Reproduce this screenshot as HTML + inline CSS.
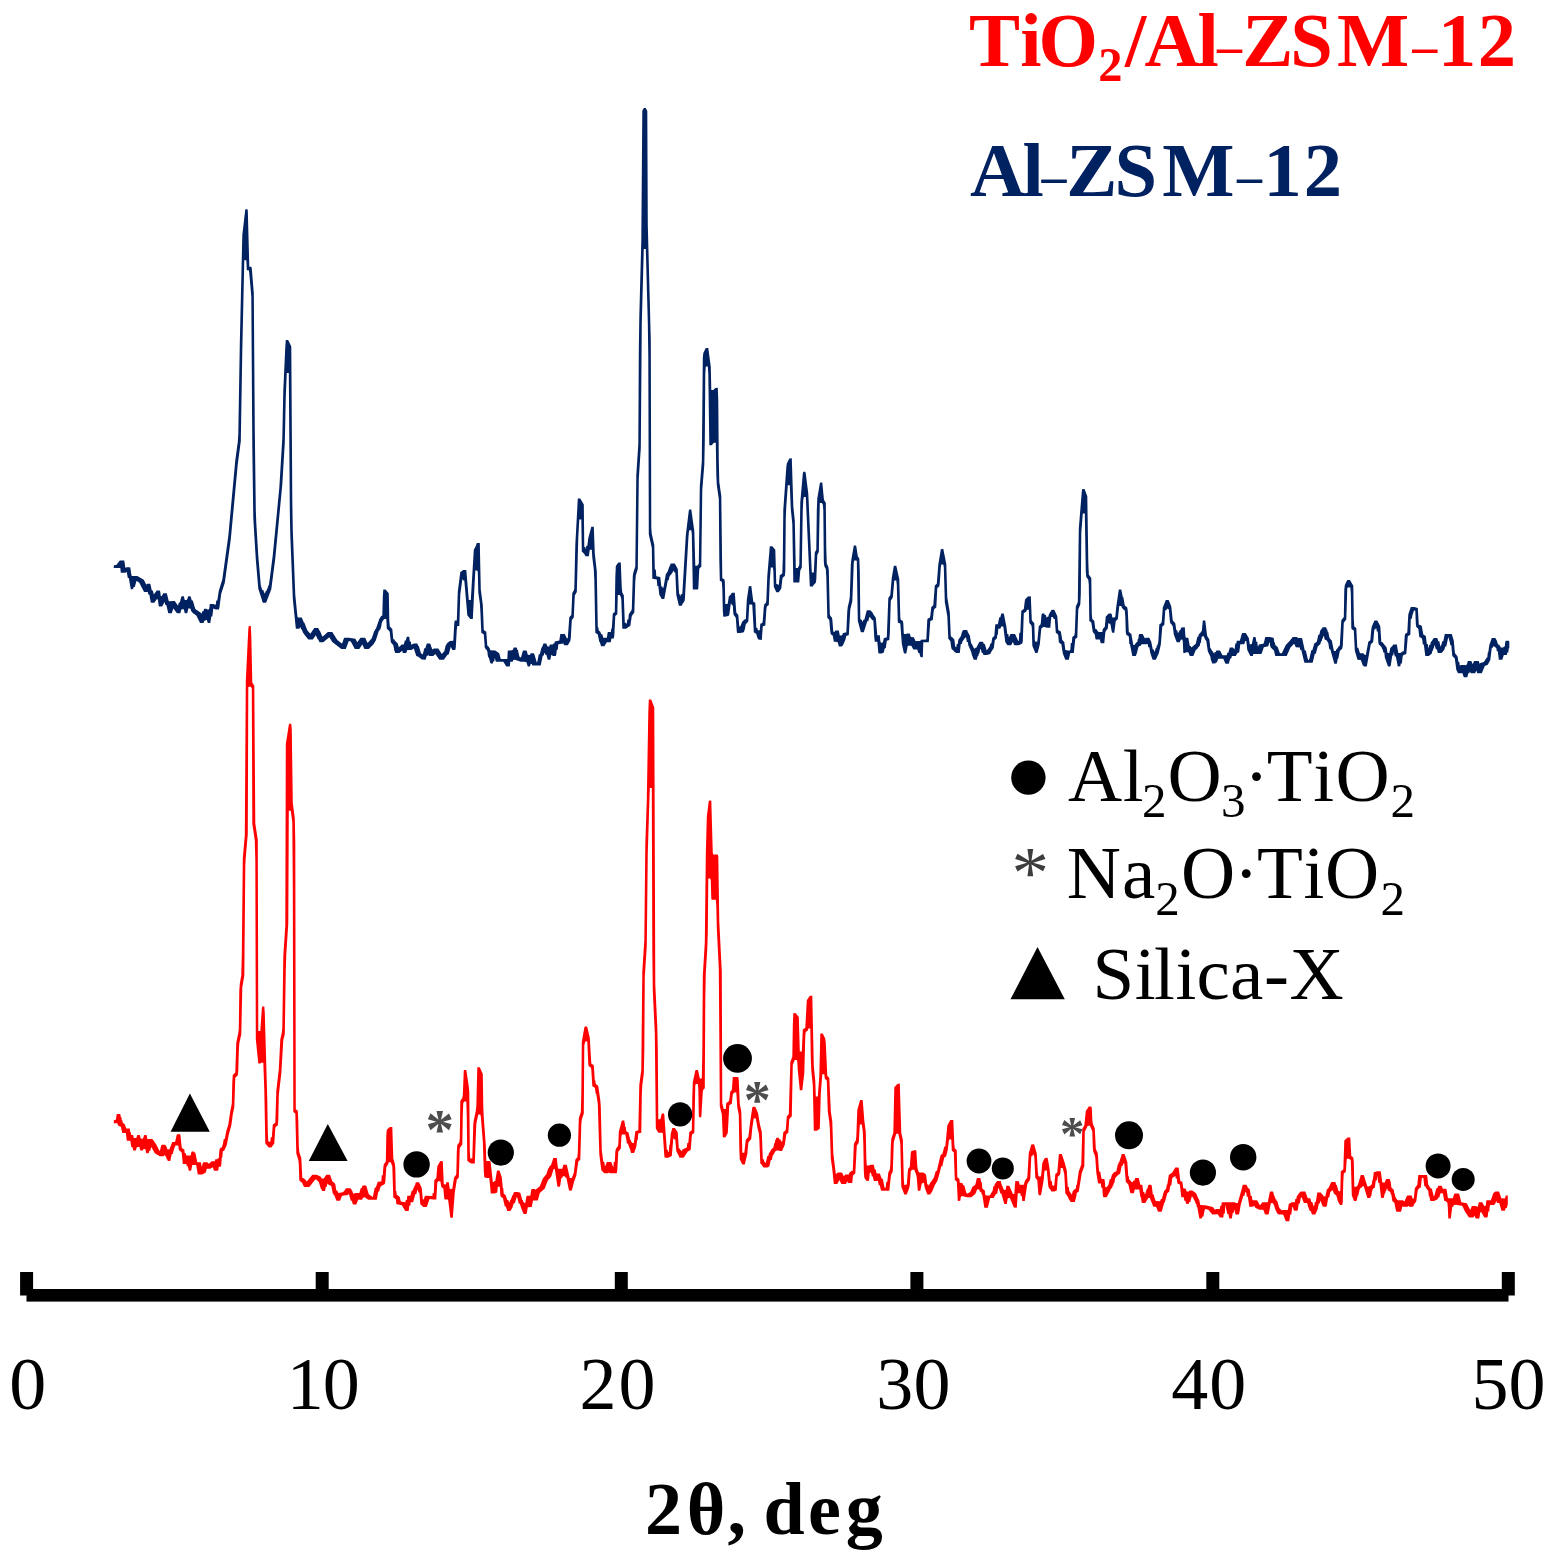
<!DOCTYPE html>
<html lang="en">
<head>
<meta charset="utf-8">
<title>XRD patterns: TiO2/Al-ZSM-12 and Al-ZSM-12</title>
<style>
html,body{margin:0;padding:0;background:#fff;}
body{width:1552px;height:1560px;overflow:hidden;}
svg{display:block;}
text{font-family:"Liberation Serif",serif;}
.curve{fill:none;stroke-linejoin:miter;stroke-miterlimit:3;stroke-linecap:butt;}
</style>
</head>
<body>
<svg width="1552" height="1560" viewBox="0 0 1552 1560">
<defs><filter id="soft" x="-2%" y="-2%" width="104%" height="104%"><feGaussianBlur stdDeviation="0.7"/></filter><filter id="csoft" x="-2%" y="-2%" width="104%" height="104%"><feGaussianBlur stdDeviation="0.45"/></filter><filter id="msoft" x="-2%" y="-2%" width="104%" height="104%"><feGaussianBlur stdDeviation="0.5"/></filter></defs>
<rect width="1552" height="1560" fill="#fff"/>
<g filter="url(#soft)">
<g id="axis" fill="#000">
<rect x="26.5" y="1289" width="1482" height="12.6"/>
<rect x="20.1" y="1272" width="13" height="23.5"/>
<rect x="315.7" y="1272" width="13" height="23.5"/>
<rect x="614.8" y="1272" width="13" height="23.5"/>
<rect x="910.4" y="1272" width="13" height="23.5"/>
<rect x="1206.3" y="1272" width="13" height="23.5"/>
<rect x="1501.8" y="1272" width="13" height="23.5"/>
</g>
<g id="ticklabels">
<text x="9.2" y="1409.4" font-size="74" fill="#000">0</text>
<text x="286.7 322.8" y="1409.4" font-size="74" fill="#000">10</text>
<text x="579.5 618.5" y="1409.4" font-size="74" fill="#000">20</text>
<text x="876.3 913.4" y="1409.4" font-size="74" fill="#000">30</text>
<text x="1171.2 1209.2" y="1409.4" font-size="74" fill="#000">40</text>
<text x="1471.5 1508.6" y="1409.4" font-size="74" fill="#000">50</text>
</g>
<text x="645.0 686.8 727.6 747.6 763.4 807.9 845.8" y="1533.5" font-size="74" font-weight="bold" fill="#000">2θ, deg</text>
</g>
<g filter="url(#csoft)">
<polygon fill="#002060" points="113.8,565.3 116.3,565.1 119.8,560.5 124.3,560.5 125.3,567.7 126.8,567.2 129.8,567.2 130.3,567.7 131.3,574.4 131.8,575.9 137.3,576.1 143.8,579.8 146.3,584.8 146.8,583.9 147.3,583.7 150.3,583.7 151.8,590.4 152.8,590.4 153.8,594.4 156.8,590.4 159.8,590.4 160.3,591.9 160.8,596.3 161.8,596.1 163.3,593.3 166.8,593.3 168.8,601.3 174.8,601.1 177.8,605.5 178.3,604.7 178.8,602.5 179.8,602.5 181.3,596.7 181.8,596.2 183.8,596.2 184.8,600.0 186.8,600.0 188.3,596.2 190.3,596.2 190.8,597.0 191.8,600.4 192.8,600.4 195.3,609.0 200.8,612.7 201.3,613.4 201.8,613.2 202.3,611.3 203.3,611.3 204.3,608.8 206.3,608.8 207.3,609.5 208.8,609.5 209.3,608.5 209.8,604.0 213.3,604.0 215.3,604.8 215.8,604.4 216.3,600.4 217.3,600.4 218.8,590.7 222.3,579.6 228.3,536.1 235.3,460.3 237.8,441.7 238.3,433.7 239.8,343.2 242.3,234.9 245.3,209.2 247.3,209.2 247.8,210.5 249.3,266.7 251.3,266.7 251.8,268.6 253.8,292.9 254.8,429.3 255.8,509.8 256.3,523.0 258.3,555.9 260.8,585.4 262.3,590.1 263.3,590.1 264.3,593.1 264.8,593.5 265.8,591.0 266.3,591.0 267.8,587.6 268.3,585.6 268.8,585.6 269.8,578.6 272.8,554.9 279.3,488.0 282.3,438.2 283.3,390.3 285.3,346.4 285.8,340.1 287.8,340.1 288.3,340.3 291.3,346.4 292.3,499.9 292.8,530.7 295.3,595.1 297.3,615.2 297.8,617.5 301.8,617.5 303.8,622.4 304.3,622.4 307.3,630.3 310.3,633.7 314.3,628.1 318.3,628.1 319.3,630.6 319.8,630.6 322.3,636.5 322.8,636.4 327.8,632.0 332.3,632.0 337.3,639.9 341.8,643.4 342.3,643.0 343.8,638.5 344.3,637.8 348.8,637.8 355.3,638.7 357.3,642.3 360.3,638.0 360.8,637.8 364.8,637.8 365.3,638.0 367.3,642.5 367.8,642.8 371.8,638.3 374.3,630.8 374.8,630.8 375.3,629.1 375.8,629.1 379.3,619.0 381.3,615.8 382.3,615.8 382.8,596.7 383.3,589.5 385.3,589.5 385.8,589.7 388.8,593.3 389.3,620.2 389.8,626.6 392.3,629.1 393.3,639.2 394.3,639.2 394.8,640.5 397.8,643.6 398.8,647.2 401.8,644.6 403.8,644.6 404.8,640.5 405.8,640.5 406.8,636.8 408.8,636.8 409.3,637.1 409.8,641.5 410.8,641.5 411.3,644.8 413.8,643.6 417.3,643.6 418.3,646.1 418.8,646.1 420.8,652.8 421.3,653.6 422.3,654.2 422.8,654.2 424.3,648.3 425.3,648.3 426.8,643.6 429.8,643.6 430.3,643.8 432.3,649.5 433.8,648.4 438.3,648.4 441.8,653.9 444.3,651.3 445.8,645.1 446.3,645.1 446.8,643.6 449.8,640.9 453.3,640.7 454.3,623.1 454.8,620.4 456.8,620.4 457.8,591.4 460.3,572.1 463.3,570.1 466.3,570.1 468.8,600.0 470.8,600.0 473.8,549.8 475.8,546.0 476.8,543.1 479.8,543.1 480.8,589.5 482.8,605.0 483.8,630.1 486.3,631.8 487.3,645.8 487.8,645.8 488.3,646.3 489.8,648.4 490.3,650.2 495.3,650.4 498.8,652.9 499.3,653.5 500.8,659.1 507.3,659.1 507.8,650.4 511.3,650.4 511.8,649.9 512.8,649.9 513.8,647.5 516.3,647.5 516.8,647.7 517.3,649.7 517.8,649.7 519.3,656.1 519.8,657.2 520.8,657.5 521.3,656.6 522.8,650.9 523.3,650.4 526.3,650.4 526.8,651.1 527.8,654.8 529.8,655.0 530.8,653.3 533.8,653.3 534.3,654.0 536.8,662.4 537.3,661.7 538.8,654.2 539.8,654.2 541.3,648.2 542.8,645.5 543.3,643.8 543.8,643.6 546.3,643.6 547.3,646.1 547.8,646.5 549.3,646.5 549.8,644.6 552.8,644.6 553.3,643.6 554.3,643.6 554.8,641.6 559.3,640.5 560.3,633.9 564.8,633.9 566.8,638.2 567.8,638.3 569.3,617.3 571.3,615.1 572.3,592.9 573.8,590.4 574.3,588.2 575.3,544.9 577.8,498.6 580.3,498.6 583.8,504.4 584.3,547.1 585.3,547.1 585.8,549.6 586.3,545.7 587.3,545.7 588.3,538.0 591.3,526.7 593.8,526.7 594.8,553.4 596.8,571.4 597.8,627.3 598.3,627.3 598.8,630.4 600.3,631.8 601.3,634.2 602.3,634.2 603.3,637.8 606.8,637.8 607.8,632.0 610.8,632.0 611.3,628.6 611.8,628.6 612.8,613.4 614.8,611.9 615.3,577.8 615.8,566.0 618.3,562.4 620.8,562.4 621.8,588.2 622.3,592.4 623.8,595.3 624.8,622.7 625.8,622.7 626.3,623.7 626.8,623.4 627.3,619.6 628.3,619.6 628.8,614.6 629.3,613.4 631.3,610.5 631.8,609.0 632.8,575.7 633.3,572.8 635.3,566.5 636.3,474.9 638.3,443.9 638.8,350.9 639.3,316.7 641.3,240.2 642.3,110.7 643.8,108.0 645.8,108.0 647.3,111.0 647.8,224.7 650.8,340.4 651.3,527.9 651.8,533.9 654.3,544.9 654.8,569.6 655.8,569.6 656.3,576.2 660.3,577.0 661.3,586.6 662.3,586.6 662.8,588.0 663.3,588.0 663.8,585.8 665.8,574.2 667.8,571.3 668.8,567.9 670.8,563.6 674.8,563.6 677.8,569.1 678.8,590.0 679.3,594.5 680.3,594.5 680.8,596.5 681.3,593.9 682.3,593.9 685.8,535.4 688.8,510.4 689.3,509.4 691.3,509.4 694.3,530.9 695.3,565.7 697.3,565.7 698.8,563.8 699.8,486.1 701.8,461.5 702.8,357.8 703.3,353.1 705.8,348.0 708.3,348.0 710.8,367.1 711.3,389.9 713.3,389.9 715.3,387.9 717.8,387.7 718.3,401.4 718.8,460.8 719.3,482.0 721.3,495.9 722.3,578.3 724.3,579.2 724.8,581.3 725.3,603.9 727.3,603.9 727.8,603.2 728.8,596.4 730.8,594.5 731.8,592.8 734.8,592.8 736.3,612.6 738.3,615.1 739.3,626.6 740.3,626.3 742.3,621.6 744.8,619.2 745.8,619.2 746.8,599.8 748.8,586.3 751.3,586.1 753.3,601.7 755.3,602.7 756.3,627.8 757.3,627.8 757.8,629.9 758.3,630.2 759.3,630.4 759.8,629.7 760.3,623.7 762.3,623.0 762.8,620.6 763.8,606.4 764.3,604.2 765.8,602.9 766.3,600.7 767.3,576.1 769.8,546.2 772.3,546.2 775.3,549.8 776.3,584.1 777.3,584.1 777.8,584.8 778.8,584.8 779.8,575.2 782.3,573.5 782.8,558.3 783.3,509.7 786.3,467.3 786.8,463.5 789.3,458.5 791.8,458.2 793.3,505.9 794.8,520.8 795.8,567.9 797.8,567.9 799.3,565.0 800.3,502.2 802.8,473.7 803.3,471.7 805.3,471.7 805.8,473.7 808.3,493.7 811.8,572.4 813.8,572.4 814.8,552.4 816.3,549.5 816.8,510.2 817.3,498.3 819.8,483.4 820.3,482.4 822.3,482.4 823.8,498.3 824.3,500.5 825.8,502.7 826.3,548.9 826.8,563.6 828.3,566.7 828.8,569.9 829.8,614.3 830.3,615.8 831.8,617.5 832.3,619.2 833.3,631.7 834.8,631.8 835.3,630.5 838.8,630.5 839.8,635.4 840.8,635.4 841.3,635.8 841.8,634.9 842.3,634.9 842.8,633.3 845.3,632.5 846.3,632.5 847.3,611.3 847.8,606.8 849.3,600.6 849.8,596.6 850.8,565.1 851.3,559.7 853.8,545.5 855.8,545.5 856.3,546.2 857.8,556.3 859.3,558.5 859.8,571.2 860.3,618.2 860.8,619.7 861.8,619.7 862.3,621.4 862.8,621.8 863.3,619.8 864.3,619.8 866.8,610.2 870.3,610.2 872.3,612.2 873.8,615.1 875.8,617.7 877.3,635.3 879.8,635.3 880.3,640.6 880.8,642.7 882.8,642.4 883.8,638.2 885.8,637.4 886.8,637.4 888.3,598.1 890.3,595.0 891.8,577.6 893.8,566.0 894.3,565.8 896.3,565.8 899.3,579.3 900.3,616.9 900.8,620.0 902.8,620.8 903.3,623.6 903.8,633.5 904.3,633.9 906.3,633.9 906.8,633.4 909.8,633.4 910.8,637.1 913.8,637.3 915.8,641.4 916.3,641.1 920.3,641.1 920.8,639.7 926.3,639.5 927.3,619.7 927.8,618.4 929.8,617.7 930.3,616.0 931.3,606.9 933.3,605.3 934.8,585.4 936.8,583.8 938.3,564.5 940.8,549.4 941.3,548.9 943.3,548.9 946.3,564.1 947.3,597.6 949.8,612.4 950.8,636.1 951.8,637.3 952.3,637.3 953.3,638.3 953.8,639.3 954.3,639.3 955.3,646.7 956.3,647.3 956.8,643.9 957.8,643.9 958.3,639.7 960.8,636.3 961.8,632.5 962.8,630.5 963.3,630.1 966.8,630.1 967.3,630.3 967.8,632.0 969.8,635.6 971.3,643.8 971.8,643.8 973.8,647.9 974.3,647.9 974.8,649.2 975.3,647.7 976.3,647.7 979.3,641.9 979.8,641.7 982.8,641.7 983.3,642.2 983.8,643.9 984.8,643.9 986.8,650.6 989.8,646.0 990.3,643.5 991.3,643.5 992.3,637.8 994.3,636.1 995.3,624.3 997.8,624.3 999.3,617.3 1000.3,617.3 1001.3,613.6 1003.8,613.6 1006.3,626.2 1007.3,634.1 1008.3,634.1 1008.8,637.4 1010.3,634.2 1010.8,633.9 1014.8,633.9 1015.3,634.4 1018.3,641.1 1018.8,640.8 1019.3,632.7 1020.3,632.7 1021.3,610.7 1023.8,609.0 1024.8,600.9 1025.3,598.9 1027.3,597.3 1027.8,596.4 1030.8,596.2 1031.8,619.9 1032.3,621.1 1034.3,623.3 1034.8,639.9 1035.3,641.7 1037.3,641.4 1038.8,626.0 1040.3,624.8 1040.8,623.3 1041.3,616.4 1041.8,613.6 1044.3,613.6 1044.8,615.1 1045.8,615.1 1046.8,618.1 1047.3,616.8 1048.3,616.8 1048.8,614.4 1051.3,610.3 1051.8,609.8 1054.3,609.8 1057.3,616.3 1058.3,630.2 1058.8,630.2 1060.8,631.6 1062.3,639.9 1064.3,641.9 1065.3,649.9 1066.3,649.9 1066.8,650.4 1069.8,650.4 1070.3,649.9 1070.8,643.0 1071.8,643.0 1072.3,637.3 1072.8,636.5 1074.3,635.4 1074.8,632.7 1075.8,606.6 1077.8,602.0 1078.8,528.6 1081.8,491.4 1082.3,489.0 1084.3,489.0 1084.8,489.5 1087.3,496.2 1088.3,561.5 1088.8,574.5 1091.3,577.9 1091.8,614.2 1092.3,619.0 1094.3,620.9 1095.3,629.1 1096.3,629.1 1098.3,631.8 1098.8,632.0 1102.3,632.0 1102.8,629.1 1104.8,626.7 1105.8,616.5 1108.8,613.6 1111.3,613.6 1111.8,614.6 1112.3,617.4 1114.3,617.4 1115.3,616.7 1116.3,606.4 1118.8,589.5 1121.3,589.5 1122.8,597.0 1123.3,597.0 1124.8,605.4 1127.3,607.6 1127.8,611.3 1128.8,632.1 1129.3,632.1 1129.8,632.9 1131.3,633.8 1133.3,645.1 1134.3,645.1 1136.8,641.9 1137.3,641.9 1137.8,638.9 1138.3,638.9 1138.8,634.9 1139.3,633.9 1142.3,633.9 1142.8,634.2 1144.8,638.2 1145.3,638.3 1145.8,637.8 1149.3,637.8 1151.3,641.9 1152.8,649.6 1153.8,649.6 1154.3,651.6 1154.8,651.6 1155.8,647.9 1156.3,647.9 1156.8,645.6 1157.3,645.6 1158.3,641.9 1159.3,624.5 1161.3,622.9 1161.8,621.1 1162.8,607.6 1165.8,600.1 1168.3,600.1 1168.8,600.3 1171.3,606.4 1172.8,620.6 1175.3,623.3 1176.3,630.3 1177.3,630.3 1177.8,633.0 1178.3,632.7 1179.8,630.1 1180.3,630.1 1181.3,627.4 1184.8,627.2 1185.3,635.1 1185.8,637.8 1188.3,637.8 1189.8,646.0 1190.8,646.0 1191.3,647.5 1195.8,643.8 1197.3,636.7 1198.3,636.7 1198.8,634.2 1200.3,633.0 1201.3,631.3 1201.8,631.3 1202.8,620.6 1205.3,620.4 1206.8,633.6 1207.3,636.3 1209.3,639.3 1210.3,648.2 1210.8,648.2 1212.3,651.3 1212.8,651.3 1213.8,653.3 1214.3,653.4 1214.8,651.9 1215.8,651.9 1216.3,650.4 1219.8,650.4 1220.3,650.9 1222.3,655.0 1222.8,655.3 1226.3,655.3 1226.8,654.7 1227.3,652.7 1228.3,652.7 1229.8,647.5 1232.8,647.5 1233.3,647.8 1234.3,649.5 1234.8,648.0 1235.3,643.5 1236.3,643.5 1236.8,640.8 1239.8,640.7 1241.8,633.8 1242.3,633.0 1245.8,633.0 1248.8,637.9 1249.8,644.4 1250.3,644.4 1250.8,643.9 1251.8,643.9 1253.3,636.9 1255.3,636.9 1255.8,637.9 1256.3,641.7 1257.3,641.7 1257.8,646.4 1258.3,646.3 1258.8,644.6 1263.3,643.8 1263.8,642.9 1265.3,636.9 1269.8,636.9 1273.3,637.7 1273.8,638.6 1274.3,642.2 1274.8,642.2 1275.3,644.9 1277.8,647.3 1279.8,652.9 1280.3,653.3 1281.8,653.3 1285.8,644.9 1289.8,640.8 1292.8,636.9 1297.3,636.9 1297.8,638.2 1298.8,637.9 1301.8,637.9 1302.3,638.9 1304.8,650.5 1305.8,650.5 1307.8,659.1 1308.3,660.1 1308.8,660.1 1309.3,659.1 1311.3,650.2 1312.3,650.2 1314.3,643.6 1316.8,641.7 1318.3,634.8 1319.3,634.8 1320.3,630.6 1322.8,627.2 1325.8,627.2 1326.3,627.5 1326.8,629.5 1327.3,629.5 1327.8,632.0 1328.3,632.0 1329.3,637.2 1330.3,639.1 1331.8,640.5 1333.8,650.5 1334.3,651.0 1335.8,651.0 1336.3,649.5 1337.8,648.0 1338.3,646.8 1339.3,645.8 1339.8,645.8 1341.3,620.2 1343.8,616.9 1344.3,589.7 1344.8,585.0 1347.3,580.1 1347.8,579.9 1349.8,579.9 1350.3,580.4 1353.3,585.7 1353.8,618.8 1354.3,626.6 1356.3,628.0 1357.3,647.8 1358.3,647.8 1359.8,652.7 1360.3,653.3 1363.3,653.3 1363.8,654.1 1364.3,654.1 1364.8,655.1 1365.8,655.1 1368.3,641.7 1370.3,640.2 1371.3,629.2 1371.8,626.5 1374.3,620.7 1374.8,620.5 1377.3,620.5 1380.3,626.3 1381.3,641.9 1382.3,641.9 1386.3,647.1 1386.8,648.0 1387.3,652.0 1387.8,653.0 1389.3,653.0 1390.3,648.0 1392.3,646.1 1393.3,644.6 1396.8,644.6 1398.3,652.9 1400.3,652.9 1402.8,651.2 1403.8,651.2 1404.8,635.0 1405.3,633.8 1407.3,632.4 1408.3,614.2 1410.8,606.9 1414.3,606.9 1417.8,607.9 1418.8,624.7 1420.3,625.0 1421.8,626.1 1423.3,634.5 1425.8,635.9 1426.8,644.1 1427.8,644.1 1428.3,648.6 1429.3,644.7 1430.3,644.7 1430.8,642.0 1431.8,641.0 1433.8,637.9 1437.3,637.9 1438.3,641.3 1439.3,641.3 1440.3,645.8 1440.8,646.6 1442.3,641.3 1443.3,641.3 1444.8,634.0 1451.8,634.0 1453.8,640.8 1454.8,652.1 1455.3,653.8 1457.3,656.0 1457.8,657.5 1458.3,661.7 1459.3,661.7 1459.8,666.1 1460.3,665.2 1460.8,664.9 1464.8,664.9 1465.3,665.4 1465.8,664.8 1466.8,664.8 1467.8,661.1 1471.3,661.1 1472.8,664.3 1473.8,661.6 1474.3,661.1 1478.3,661.1 1478.8,661.3 1479.8,664.0 1480.3,663.0 1483.8,662.1 1486.8,657.4 1487.3,657.4 1487.8,652.3 1488.3,652.3 1489.3,644.9 1491.8,637.9 1495.3,637.9 1496.8,640.5 1497.8,644.0 1499.8,645.4 1500.8,647.5 1503.3,647.5 1503.8,646.5 1504.8,646.5 1505.3,641.8 1505.8,640.8 1508.8,640.8 1509.3,641.5 1509.3,648.2 1508.8,648.2 1508.3,652.5 1507.3,652.5 1506.8,655.0 1503.8,655.0 1502.3,659.8 1498.8,659.8 1497.8,651.2 1496.8,651.2 1496.3,648.0 1493.8,646.3 1493.3,646.2 1492.8,647.7 1491.8,647.7 1490.3,660.0 1487.8,664.7 1484.8,665.9 1481.8,673.3 1477.3,673.3 1476.3,670.6 1475.3,673.1 1474.8,673.3 1470.8,673.3 1469.8,671.6 1469.3,673.3 1468.3,673.3 1467.3,677.2 1463.8,677.2 1462.3,673.0 1461.3,673.3 1458.3,673.3 1457.8,672.9 1456.3,669.7 1454.8,658.6 1452.3,655.9 1451.3,645.3 1450.3,645.3 1449.8,642.2 1448.3,636.9 1446.3,646.5 1445.3,646.5 1444.3,649.7 1442.3,652.3 1441.3,653.0 1437.8,653.0 1436.8,649.3 1435.8,649.3 1434.8,645.2 1434.3,645.8 1433.8,648.6 1433.3,648.6 1432.8,651.0 1432.3,651.0 1431.8,653.5 1431.3,654.1 1428.8,655.9 1425.3,655.9 1423.8,644.5 1422.8,644.5 1422.3,640.0 1421.8,638.3 1419.3,636.9 1418.3,628.7 1416.3,627.1 1415.8,624.0 1415.3,610.5 1414.3,610.5 1413.8,611.0 1412.3,615.8 1411.8,618.8 1410.8,618.8 1410.3,634.7 1407.8,636.3 1406.3,654.0 1403.8,655.1 1402.8,655.8 1401.8,663.4 1400.8,663.4 1400.3,666.3 1397.8,666.6 1395.8,656.4 1394.8,656.4 1393.8,651.9 1393.3,655.4 1392.3,655.4 1390.8,665.3 1390.3,666.6 1388.3,666.6 1387.8,666.1 1384.8,657.4 1384.3,652.4 1383.3,652.4 1382.8,649.7 1382.3,649.2 1381.3,646.8 1378.8,644.5 1378.3,642.3 1377.8,631.6 1376.8,631.6 1376.3,628.2 1375.8,628.2 1375.3,629.4 1374.3,629.4 1373.3,641.2 1372.8,642.6 1370.8,644.3 1366.8,666.6 1363.8,666.6 1363.3,665.6 1362.8,665.6 1360.8,659.9 1357.8,659.8 1357.3,659.3 1354.8,650.6 1353.8,630.6 1351.8,629.2 1351.3,628.1 1350.8,593.3 1350.3,587.6 1349.3,587.6 1348.8,586.8 1348.3,587.8 1347.3,587.8 1346.3,619.5 1343.8,622.8 1342.8,645.5 1342.3,648.4 1339.8,651.1 1338.3,658.7 1337.8,658.7 1336.8,663.7 1334.3,663.7 1330.3,649.3 1329.3,649.3 1328.3,643.1 1326.3,640.0 1324.8,639.8 1323.8,635.8 1323.3,636.2 1322.8,638.4 1322.3,638.4 1321.8,640.9 1321.3,640.9 1320.3,644.3 1317.8,646.2 1315.8,653.8 1314.8,653.8 1312.8,662.2 1312.3,662.7 1304.8,662.7 1304.3,662.5 1301.3,649.9 1300.3,649.9 1299.8,647.4 1295.8,647.2 1294.3,644.0 1293.8,643.9 1290.3,647.7 1286.8,655.7 1286.3,655.9 1275.3,655.9 1273.8,650.1 1273.3,650.1 1270.8,647.5 1270.3,646.5 1269.8,643.1 1269.3,642.2 1268.3,646.3 1263.8,647.2 1261.8,653.3 1261.3,654.0 1253.3,654.0 1252.8,655.9 1250.3,655.9 1247.3,649.9 1246.3,641.0 1245.3,641.0 1244.3,644.1 1243.8,644.3 1240.3,644.3 1239.3,652.1 1238.8,652.8 1237.8,652.8 1237.3,653.3 1235.8,655.9 1232.3,655.9 1231.8,656.3 1231.3,658.5 1230.3,658.5 1228.8,663.7 1225.8,663.7 1225.3,663.4 1223.3,658.7 1218.3,658.8 1216.8,662.6 1215.8,662.6 1215.3,663.6 1212.3,663.6 1210.8,659.4 1210.3,656.4 1207.8,651.3 1206.3,640.9 1204.8,638.9 1203.8,636.2 1201.8,636.4 1200.8,643.0 1200.3,643.0 1199.8,645.7 1198.3,647.2 1197.3,648.9 1195.8,650.1 1193.3,655.9 1189.8,655.9 1188.3,652.2 1185.8,652.2 1185.3,653.0 1183.3,653.0 1182.8,641.5 1182.3,639.6 1180.8,639.8 1179.8,642.3 1176.8,642.3 1176.3,641.3 1173.8,634.4 1172.8,626.4 1171.8,624.7 1170.3,623.2 1169.8,620.8 1168.8,609.2 1167.8,609.2 1167.3,608.2 1166.3,610.2 1165.3,610.2 1164.3,624.9 1162.3,626.5 1160.8,644.8 1158.8,653.2 1155.8,659.7 1152.8,659.7 1152.3,659.0 1150.3,653.0 1149.3,647.2 1148.3,647.2 1147.8,644.7 1147.3,643.8 1146.3,644.3 1141.8,644.3 1140.3,646.0 1139.3,646.0 1138.3,647.4 1136.8,653.4 1135.8,655.9 1132.3,655.9 1130.3,646.0 1129.8,644.0 1129.3,644.0 1128.8,636.4 1126.3,634.7 1125.8,632.4 1125.3,616.7 1124.8,610.2 1124.3,610.2 1123.3,609.4 1121.8,607.5 1121.3,606.0 1119.3,606.0 1117.8,619.3 1115.8,620.9 1114.3,632.7 1112.3,632.7 1111.8,631.7 1110.3,623.7 1109.3,623.7 1108.8,623.2 1108.3,623.2 1107.8,628.6 1105.8,631.0 1105.3,632.7 1104.3,643.3 1100.8,643.3 1099.8,639.8 1099.3,639.2 1098.8,639.4 1095.8,639.4 1095.3,638.2 1094.8,634.4 1092.8,631.9 1091.3,622.6 1089.3,621.1 1088.8,585.0 1088.3,579.8 1086.3,577.1 1085.8,571.9 1084.8,513.5 1082.8,513.5 1081.3,532.6 1080.8,594.2 1080.3,604.6 1078.3,609.2 1077.3,637.5 1075.3,639.1 1073.8,653.0 1070.3,653.0 1068.8,659.7 1065.3,659.7 1063.3,654.7 1062.8,653.2 1061.3,643.9 1060.8,643.9 1058.8,642.3 1058.3,635.6 1057.8,634.2 1055.8,632.8 1054.8,618.9 1053.8,618.9 1052.8,617.0 1051.3,617.0 1050.3,627.8 1046.8,627.8 1044.8,626.9 1043.3,626.9 1041.3,628.6 1039.8,644.5 1037.8,652.2 1037.3,653.0 1035.3,653.0 1032.3,645.7 1031.8,628.1 1031.3,625.2 1029.3,623.0 1028.8,609.8 1027.3,609.8 1026.8,610.2 1026.3,611.6 1023.8,613.3 1022.8,641.1 1022.3,643.4 1018.8,645.2 1014.3,645.2 1012.8,642.0 1011.3,645.0 1010.8,645.2 1007.8,645.2 1007.3,645.0 1005.3,642.3 1003.3,626.6 1001.3,626.6 1000.3,628.8 998.3,628.8 997.8,634.8 997.3,634.8 996.8,638.5 994.8,640.2 993.8,648.1 991.3,651.8 990.3,654.0 986.8,654.9 983.8,654.9 983.3,654.6 982.8,652.9 981.8,652.9 980.8,649.2 980.3,649.1 979.3,653.8 978.8,653.8 978.3,656.0 977.8,656.0 976.8,659.7 973.8,659.7 971.8,654.8 971.3,652.3 968.3,645.2 967.8,642.0 966.8,642.0 966.3,638.5 965.8,637.5 965.3,637.5 962.3,641.8 961.8,644.1 960.8,644.1 959.8,653.0 956.3,653.0 954.3,651.7 953.8,650.9 951.8,649.3 951.3,648.1 950.3,640.9 948.3,638.7 947.3,616.3 944.8,602.0 943.8,567.4 943.3,564.4 941.3,564.4 940.8,567.4 939.8,582.8 939.3,586.4 937.3,588.0 936.3,607.5 934.3,608.9 933.8,610.7 932.8,620.1 930.3,620.9 928.8,642.3 923.3,642.3 922.8,657.3 920.8,657.3 920.3,656.5 919.3,652.9 918.3,652.9 917.3,649.5 913.3,649.5 911.3,645.7 907.8,645.7 906.3,653.4 904.3,653.4 903.8,652.9 901.8,643.8 900.3,623.4 897.8,622.5 896.8,585.6 896.3,580.4 894.3,580.4 892.8,597.4 890.8,600.7 889.8,633.4 889.3,640.0 886.8,640.7 885.8,648.3 884.8,648.3 883.8,652.4 881.8,653.4 878.8,653.4 878.3,652.7 877.3,641.8 874.8,641.8 874.3,637.9 873.3,620.3 872.3,620.3 869.8,616.9 869.3,617.3 868.3,621.2 867.3,621.2 863.8,632.2 861.3,632.2 860.8,631.9 857.8,620.8 856.8,561.1 856.3,560.4 854.3,560.4 853.8,562.5 852.3,601.2 850.3,609.6 848.8,635.1 846.3,635.9 845.3,639.9 842.8,645.7 842.3,645.7 841.8,646.6 838.8,646.6 837.8,642.2 836.8,642.2 836.3,641.8 833.8,641.8 832.8,635.8 830.8,634.3 830.3,632.1 829.3,620.1 827.3,617.7 826.3,577.3 825.8,569.1 824.3,566.2 823.8,561.7 823.3,510.0 822.8,504.5 821.8,502.9 819.8,502.9 818.8,552.1 817.3,555.0 816.3,579.4 815.8,582.8 813.8,584.8 812.8,586.5 809.8,586.5 805.8,497.0 803.8,497.0 803.3,500.0 802.8,509.3 801.8,567.6 800.3,570.5 799.3,582.6 793.3,582.6 792.3,524.1 790.8,509.2 789.8,485.3 787.8,485.3 786.3,506.3 785.8,517.2 785.3,571.3 784.8,576.0 782.8,577.4 782.3,579.5 781.3,588.4 778.8,592.3 776.3,592.3 773.8,586.7 773.3,570.3 772.8,567.5 770.8,567.5 769.8,579.7 768.8,605.1 766.8,606.6 766.3,610.2 765.3,625.4 762.8,626.3 761.8,639.9 758.3,639.6 757.3,637.7 756.3,633.9 753.8,632.2 752.3,604.9 751.3,604.4 749.3,604.4 748.3,621.5 745.8,624.2 744.8,629.4 743.8,632.2 740.3,633.1 737.3,633.1 736.8,632.1 735.8,617.9 734.8,616.2 733.8,615.2 733.3,613.3 732.8,605.3 731.8,605.3 731.3,603.4 730.8,603.4 729.3,614.7 728.8,615.8 726.3,616.6 723.3,616.7 722.8,610.7 722.3,588.1 721.8,581.7 719.8,580.8 719.3,559.4 718.8,499.0 716.8,485.1 716.3,475.1 715.8,442.7 713.8,442.7 711.8,445.3 709.3,445.3 708.3,374.5 707.8,366.5 705.8,366.5 705.3,373.7 704.8,441.1 704.3,465.1 702.3,489.7 701.3,566.4 699.3,568.8 698.3,588.6 697.8,589.4 692.8,589.4 691.8,534.0 691.3,530.3 689.3,530.3 688.8,532.8 688.3,539.5 684.8,600.0 684.3,601.4 682.8,603.6 681.8,605.8 679.3,605.8 678.8,605.5 676.3,594.9 675.3,572.5 674.3,572.5 673.8,571.0 673.3,570.7 672.3,572.9 669.8,576.1 669.3,577.3 668.8,580.2 667.8,580.2 664.3,599.0 661.8,599.0 659.3,594.7 658.3,585.9 657.3,585.9 656.8,579.6 652.3,578.7 651.8,547.8 648.8,534.5 648.3,356.6 647.8,323.1 645.8,249.1 643.8,249.1 641.8,322.8 640.8,448.0 638.8,478.7 637.8,569.1 635.8,575.4 635.3,581.6 634.3,612.4 631.8,616.0 630.3,626.0 628.3,627.0 627.3,628.1 625.8,628.8 622.3,628.8 621.3,599.6 620.8,596.9 619.8,595.0 617.8,595.0 617.3,614.3 615.3,616.0 614.3,635.5 613.8,638.5 611.8,638.5 611.3,639.1 610.8,642.3 606.8,642.3 604.3,646.2 601.3,646.2 600.8,645.5 599.8,642.0 599.3,642.0 597.8,634.4 595.3,632.7 594.3,580.0 593.8,569.5 592.3,557.5 591.8,549.8 589.8,549.8 588.8,556.3 585.8,556.3 585.3,556.1 584.3,554.1 581.8,551.5 581.3,519.4 579.3,519.4 578.3,537.1 576.8,592.1 574.8,595.5 573.8,617.4 571.8,619.9 570.8,637.9 570.3,640.9 567.8,645.2 564.3,645.2 563.3,643.4 558.3,644.2 557.8,649.7 556.8,649.7 556.3,654.4 555.8,655.9 552.8,655.9 551.8,655.1 551.3,655.1 550.3,659.7 547.8,659.7 546.3,654.8 545.3,654.8 544.8,653.1 544.3,653.0 543.8,655.5 542.8,655.5 540.8,665.0 540.3,665.5 532.3,665.5 531.8,664.0 530.8,664.0 529.8,666.5 527.8,666.5 526.3,662.1 525.3,662.1 524.8,661.7 520.8,661.7 514.8,659.7 513.3,659.9 512.8,661.4 512.3,661.7 510.3,661.7 509.8,666.2 509.3,666.5 506.3,666.5 503.3,661.7 496.3,661.7 495.8,661.4 494.8,657.9 494.3,661.6 493.3,661.6 492.8,663.6 490.8,663.6 490.3,663.1 488.8,657.4 488.3,657.4 487.8,655.5 487.3,651.3 486.8,650.3 484.8,648.1 483.8,634.4 481.3,632.7 480.3,610.1 479.8,603.1 478.3,592.6 477.8,572.6 477.3,570.4 475.3,570.4 472.8,619.1 470.3,618.9 467.3,615.3 464.3,580.4 463.3,580.4 462.8,579.4 462.3,579.4 460.3,594.5 459.3,625.9 457.3,625.9 456.8,629.5 455.8,647.3 455.3,650.1 452.3,650.1 450.8,646.7 448.8,654.2 447.3,655.1 443.8,659.7 439.3,659.7 435.3,653.9 433.3,655.9 428.8,655.9 428.3,654.4 427.8,655.8 426.8,655.8 425.8,659.2 425.3,659.7 421.8,659.6 418.3,656.8 416.3,655.9 413.8,648.5 411.3,650.1 407.3,650.1 406.3,653.0 402.8,653.0 402.3,650.7 399.3,653.0 395.3,653.0 394.3,650.5 393.3,645.2 390.8,642.3 389.8,632.2 389.3,631.0 386.8,628.8 386.3,619.1 384.3,619.1 382.8,620.8 381.8,623.0 381.3,626.2 380.3,629.5 379.8,629.5 379.3,631.0 378.8,631.0 375.8,640.4 373.3,644.4 368.8,649.1 364.8,649.1 364.3,648.8 362.3,644.6 359.3,649.1 354.8,649.1 350.8,641.4 348.8,641.1 345.8,649.1 341.3,649.1 332.3,642.1 329.3,637.3 323.3,642.3 319.8,642.3 319.3,642.1 318.3,639.6 317.8,639.6 315.8,635.2 312.8,639.4 308.3,639.4 304.3,634.6 302.8,632.2 301.8,629.5 301.3,629.5 300.3,627.0 299.3,628.8 296.3,628.8 295.8,628.6 292.8,598.4 290.3,535.8 289.8,510.5 288.8,372.9 286.8,372.9 285.8,396.4 284.8,442.5 282.3,484.4 275.3,558.2 271.3,589.2 266.3,602.2 265.8,602.7 262.8,602.7 258.3,588.7 255.8,559.5 253.3,518.6 252.3,447.7 251.3,296.5 249.3,273.5 248.8,270.2 246.8,270.2 246.3,260.2 244.3,260.2 242.3,351.0 240.8,441.3 237.8,463.9 230.8,539.2 224.8,582.7 221.3,593.5 219.3,608.2 218.8,609.5 215.8,609.5 213.3,608.5 212.3,616.5 211.3,616.5 210.3,623.0 207.8,623.0 206.8,620.0 205.8,620.0 205.3,620.8 204.3,620.8 203.8,622.5 203.3,623.0 200.3,623.0 199.8,622.5 196.3,615.5 192.8,613.0 191.3,611.2 190.3,608.6 188.3,608.6 187.3,613.1 186.8,613.3 184.8,613.3 183.8,609.3 181.8,609.3 181.3,609.8 180.3,613.3 177.3,613.3 176.3,612.6 173.8,608.9 173.3,608.6 171.8,613.3 168.3,613.3 166.3,604.9 165.3,604.9 164.8,602.6 164.3,602.6 162.3,606.3 161.8,606.6 158.8,606.6 157.8,599.2 156.8,599.2 154.3,602.7 151.3,602.7 150.8,602.5 149.3,594.5 148.3,594.5 147.8,592.1 144.3,592.1 143.8,591.6 139.3,582.7 136.8,581.0 136.3,581.5 134.8,586.9 133.8,586.9 132.8,589.2 130.8,589.2 128.8,578.0 127.8,578.0 126.8,572.0 125.3,572.7 120.8,572.7 120.3,568.0 113.8,567.9"/>
<polygon fill="#ff0000" points="113.8,1120.2 115.8,1119.7 116.8,1113.9 120.3,1113.9 120.8,1117.1 121.3,1117.1 121.8,1120.3 122.3,1120.3 122.8,1122.8 124.8,1124.3 126.3,1128.4 129.8,1128.4 130.3,1132.3 130.8,1132.3 131.3,1135.1 132.8,1135.1 133.3,1135.6 133.8,1137.9 136.3,1138.1 137.3,1135.1 139.8,1135.1 140.8,1138.6 142.8,1138.8 144.3,1135.1 146.3,1135.1 146.8,1135.6 147.3,1139.0 152.3,1139.0 152.8,1139.5 156.3,1144.6 159.3,1150.6 159.8,1150.9 161.3,1145.3 161.8,1144.8 165.3,1144.8 166.8,1147.2 167.3,1149.2 169.3,1149.4 172.3,1141.9 174.8,1141.9 175.3,1141.1 176.8,1134.4 177.3,1134.2 180.3,1134.2 181.8,1147.9 184.3,1149.6 184.8,1153.3 185.8,1153.3 186.3,1155.4 190.3,1155.4 190.8,1155.1 191.3,1152.3 191.8,1151.6 193.8,1151.6 194.3,1152.6 195.3,1152.6 197.3,1162.2 200.8,1162.2 201.8,1166.9 202.8,1163.0 203.3,1162.2 207.3,1162.2 208.8,1163.7 211.8,1161.2 214.8,1161.2 215.3,1159.3 217.3,1159.3 217.8,1158.2 218.8,1158.2 219.3,1150.9 219.8,1148.5 221.8,1147.2 222.8,1144.3 223.8,1138.9 224.8,1138.9 226.3,1131.0 228.3,1124.5 230.3,1111.0 231.8,1103.5 232.3,1081.7 232.8,1075.0 235.3,1072.5 236.3,1042.4 238.3,1033.0 238.8,1028.5 239.3,990.3 239.8,983.8 241.3,975.0 241.8,954.6 242.8,858.2 244.8,835.2 245.8,680.7 248.3,629.0 248.8,626.0 250.8,626.0 251.3,635.8 252.3,682.6 254.3,685.7 255.3,823.5 257.8,840.1 258.3,1030.9 260.3,1030.9 261.8,1009.1 262.3,1006.6 264.3,1006.6 264.8,1012.8 267.3,1100.3 267.8,1131.7 268.3,1141.4 269.3,1141.4 269.8,1141.9 270.3,1141.4 270.8,1137.2 271.8,1137.2 272.8,1124.5 275.3,1122.7 276.3,1090.9 278.8,1069.2 280.3,1039.2 281.8,1032.8 282.3,1028.0 283.3,956.3 285.3,925.6 285.8,743.7 288.8,725.1 289.3,723.7 291.3,723.7 291.8,729.6 292.8,802.9 294.8,818.3 295.3,842.5 295.8,1109.2 297.8,1110.8 298.3,1121.0 298.8,1146.6 299.3,1152.1 301.3,1158.1 302.3,1178.1 303.3,1178.1 304.3,1178.8 305.3,1179.6 306.8,1181.5 312.3,1174.8 316.8,1174.8 320.8,1176.7 321.8,1178.4 322.8,1178.6 323.8,1178.6 326.3,1174.8 329.8,1174.8 330.3,1175.5 332.3,1181.3 334.8,1183.3 335.3,1184.2 336.3,1190.5 337.3,1190.5 338.3,1193.0 342.8,1192.2 344.3,1190.7 345.8,1188.5 346.3,1188.3 350.3,1188.3 350.8,1188.5 352.3,1191.0 353.3,1193.7 354.3,1193.7 354.8,1193.1 359.3,1193.1 360.8,1188.1 361.8,1188.1 362.3,1186.1 362.8,1185.4 365.8,1185.4 366.3,1185.7 368.8,1194.3 372.8,1197.0 374.8,1187.4 375.8,1187.4 377.8,1181.8 381.3,1181.4 381.8,1175.3 382.8,1175.3 383.3,1167.5 383.8,1164.3 385.8,1161.4 386.3,1135.0 386.8,1129.8 389.8,1127.1 392.3,1127.1 393.3,1158.5 394.8,1163.6 395.3,1167.8 395.8,1191.0 396.3,1191.0 396.8,1195.1 397.3,1195.1 399.8,1196.9 400.8,1201.6 405.3,1202.3 405.8,1199.9 406.8,1199.9 407.3,1195.7 410.3,1195.7 411.8,1190.5 412.8,1190.5 413.3,1188.5 415.3,1184.4 415.8,1182.2 418.8,1182.2 419.3,1182.7 421.8,1188.0 422.8,1199.5 423.8,1199.2 424.8,1196.2 425.3,1195.7 432.3,1196.1 432.8,1193.0 433.8,1193.0 434.3,1180.3 436.3,1177.9 437.3,1166.3 440.3,1160.9 442.8,1161.2 443.8,1184.3 445.8,1184.5 446.3,1182.2 448.8,1182.2 449.8,1188.9 452.3,1188.7 453.8,1178.9 454.3,1177.1 455.8,1175.2 456.3,1173.7 456.8,1151.2 457.3,1145.0 459.3,1142.3 459.8,1137.9 460.3,1101.0 462.3,1097.9 462.8,1094.9 463.8,1070.1 466.3,1070.1 468.8,1086.4 469.3,1092.2 469.8,1151.3 470.3,1158.4 472.3,1158.4 473.3,1124.3 473.8,1120.3 475.8,1111.0 476.3,1106.5 477.3,1067.2 479.8,1067.2 482.8,1074.0 483.3,1106.9 483.8,1117.9 485.8,1144.9 486.3,1160.9 490.3,1160.9 490.8,1163.4 492.8,1182.0 493.8,1182.0 494.3,1181.1 495.3,1181.1 496.8,1171.4 497.3,1170.6 499.3,1170.6 499.8,1171.4 501.8,1177.3 502.8,1188.3 503.3,1188.3 503.8,1194.0 504.8,1194.3 505.8,1195.6 507.3,1199.9 508.3,1199.9 509.3,1202.7 510.3,1199.8 510.8,1199.8 512.3,1195.3 512.8,1195.3 513.8,1192.4 514.3,1191.9 517.3,1191.9 520.3,1192.8 522.3,1200.0 522.8,1200.0 523.3,1202.0 523.8,1202.0 524.3,1203.0 525.3,1203.0 526.3,1197.0 526.8,1195.7 530.3,1195.7 531.3,1189.5 531.8,1189.0 534.8,1189.0 535.3,1189.7 535.8,1189.6 539.8,1186.3 542.8,1178.6 546.3,1174.2 548.3,1168.2 548.8,1168.2 549.3,1166.4 550.8,1165.2 551.3,1164.3 553.3,1158.0 556.8,1158.0 557.8,1167.2 558.3,1168.7 562.3,1168.7 563.3,1164.8 566.8,1164.8 569.8,1177.9 571.8,1177.9 573.8,1172.8 575.3,1160.0 575.8,1158.8 577.3,1157.5 577.8,1152.3 578.8,1118.2 580.8,1111.9 581.3,1094.2 581.8,1042.0 584.3,1027.8 584.8,1026.6 586.8,1026.6 587.3,1027.1 589.8,1037.9 591.3,1063.5 593.8,1065.3 594.8,1080.4 595.3,1080.4 595.8,1083.9 597.8,1085.4 598.3,1086.3 600.3,1100.2 600.8,1106.9 601.8,1150.3 603.3,1161.8 604.3,1161.8 604.8,1165.7 605.3,1166.1 606.8,1161.9 611.3,1161.9 613.3,1167.6 613.8,1162.0 614.8,1162.0 615.3,1152.1 615.8,1148.9 617.8,1146.2 618.3,1144.5 618.8,1131.7 621.8,1120.4 624.3,1120.4 625.3,1127.0 625.8,1127.0 626.3,1131.2 626.8,1131.2 627.3,1131.9 628.3,1131.9 630.3,1139.9 630.8,1139.9 631.3,1141.9 631.8,1141.9 632.3,1143.1 633.8,1143.1 635.3,1131.2 638.3,1130.2 639.3,1084.8 641.3,1069.9 642.3,971.3 644.3,940.6 645.3,844.4 646.8,799.4 648.3,711.8 648.8,699.5 650.8,699.5 651.3,699.8 654.3,707.4 655.3,984.4 657.3,1026.6 657.8,1048.3 658.3,1119.3 660.3,1119.3 661.8,1113.6 663.8,1113.6 664.3,1114.6 666.8,1149.7 667.8,1149.7 668.3,1152.0 668.8,1152.0 669.3,1144.8 669.8,1144.8 670.8,1133.4 672.3,1128.1 674.8,1128.1 677.3,1131.5 677.8,1132.7 678.8,1148.6 679.8,1148.6 681.3,1151.3 682.8,1149.3 686.8,1147.5 687.3,1142.9 688.3,1142.9 689.3,1131.9 691.8,1130.2 692.3,1096.1 692.8,1082.1 693.3,1079.7 695.3,1070.6 695.8,1070.1 697.8,1070.1 698.3,1071.3 699.8,1078.5 701.8,1078.5 702.3,1052.1 702.8,975.8 704.8,942.4 705.8,854.7 706.8,816.5 708.8,800.7 711.3,800.4 712.8,853.0 713.3,854.6 717.8,854.6 718.3,856.6 719.3,921.5 721.8,971.9 722.3,1103.4 723.8,1109.1 725.8,1109.1 726.3,1103.0 728.8,1101.3 729.3,1099.5 730.3,1091.4 731.8,1089.9 732.8,1076.9 738.3,1076.9 738.8,1081.1 739.8,1103.9 741.3,1111.6 742.3,1152.8 744.3,1152.8 745.8,1139.7 748.3,1137.0 750.3,1120.7 752.3,1107.6 752.8,1106.8 755.3,1106.8 757.8,1112.4 758.3,1114.6 759.8,1123.7 761.8,1131.9 762.8,1159.2 763.8,1159.2 764.3,1161.4 765.8,1163.1 767.3,1155.9 768.3,1155.9 768.8,1153.5 770.8,1150.6 771.3,1149.3 773.3,1147.7 774.3,1143.0 774.8,1143.0 775.3,1139.7 775.8,1139.7 776.3,1137.7 778.8,1137.7 779.3,1139.2 780.3,1139.2 781.3,1141.6 782.3,1141.6 783.3,1132.2 785.3,1130.5 785.8,1129.5 786.8,1116.5 788.8,1114.1 790.3,1061.9 792.3,1056.8 792.8,1026.1 793.3,1013.1 795.8,1013.3 798.8,1016.9 799.8,1051.6 801.8,1051.6 802.8,1029.5 805.3,1027.7 806.8,1000.3 809.8,995.7 812.3,995.7 813.8,1066.0 815.3,1080.9 815.8,1096.4 817.8,1096.4 819.3,1075.9 820.3,1033.4 822.8,1033.6 825.3,1038.7 825.8,1043.2 827.3,1076.1 829.3,1077.8 830.8,1111.2 832.3,1121.8 833.3,1153.2 835.8,1173.8 836.8,1173.5 837.8,1172.5 841.8,1172.5 842.3,1173.0 843.8,1176.3 845.3,1174.5 848.8,1174.5 849.3,1172.8 849.8,1172.2 851.8,1170.8 852.8,1170.8 853.8,1145.3 854.3,1142.8 855.8,1140.4 856.3,1136.7 857.3,1110.0 859.8,1101.0 860.3,1100.1 862.3,1100.1 862.8,1100.8 864.3,1120.6 865.8,1131.7 866.3,1157.6 866.8,1165.5 868.8,1165.5 870.8,1164.8 873.8,1164.8 874.8,1169.5 875.8,1169.5 876.3,1172.4 876.8,1173.5 879.8,1173.5 881.8,1178.8 882.8,1178.8 884.3,1186.3 884.8,1188.0 885.3,1188.0 885.8,1186.8 886.3,1181.8 887.3,1181.8 888.3,1172.5 889.8,1169.6 890.3,1164.9 890.8,1146.2 891.3,1138.7 893.3,1132.7 894.3,1087.2 897.3,1083.9 899.8,1083.6 901.3,1133.2 902.8,1139.2 903.8,1178.9 904.3,1185.1 906.8,1184.6 907.8,1171.7 908.3,1168.4 909.8,1167.0 910.8,1152.8 911.3,1151.2 913.8,1150.3 916.3,1150.3 917.3,1165.9 917.8,1169.6 918.8,1172.1 919.3,1172.5 923.3,1172.5 925.8,1174.3 926.3,1176.2 927.3,1184.6 928.3,1184.6 928.8,1185.7 930.3,1182.2 930.8,1182.2 933.8,1177.8 935.8,1171.1 936.8,1171.1 940.3,1156.1 940.8,1154.8 942.3,1154.0 944.3,1146.4 945.3,1146.4 947.3,1125.4 950.3,1120.1 953.3,1120.1 954.3,1144.1 954.8,1148.5 956.3,1149.6 956.8,1150.8 957.3,1177.3 959.3,1178.8 959.8,1182.7 962.3,1182.9 963.3,1185.3 964.3,1185.3 966.3,1192.8 966.8,1193.6 967.8,1193.6 970.3,1191.8 972.3,1187.0 975.3,1184.8 976.8,1178.3 977.3,1178.0 980.3,1178.0 981.3,1182.2 981.8,1182.2 982.3,1188.4 984.8,1190.6 985.3,1194.4 985.8,1195.4 989.8,1195.4 992.3,1191.3 992.8,1189.9 993.3,1186.3 994.3,1186.3 994.8,1183.8 995.8,1182.9 996.8,1181.2 997.3,1180.9 1000.8,1180.9 1001.3,1183.4 1003.8,1189.8 1005.8,1189.8 1006.3,1185.8 1009.3,1185.8 1012.8,1193.7 1014.3,1194.0 1015.3,1180.9 1018.8,1181.2 1019.8,1184.7 1020.3,1185.1 1020.8,1184.8 1023.8,1184.8 1024.8,1180.9 1027.3,1177.6 1028.8,1153.1 1031.3,1144.5 1033.8,1144.2 1034.3,1144.7 1036.8,1153.4 1037.8,1171.4 1038.3,1175.6 1038.8,1176.4 1040.8,1176.4 1041.3,1174.1 1042.3,1163.1 1044.8,1158.0 1047.3,1157.7 1047.8,1158.7 1049.3,1166.9 1050.8,1181.1 1051.8,1181.1 1052.3,1185.1 1052.8,1185.8 1054.3,1185.5 1055.3,1174.0 1057.3,1172.4 1058.8,1154.9 1059.3,1153.9 1061.8,1153.9 1064.8,1163.1 1066.8,1170.8 1067.8,1186.9 1068.8,1186.9 1069.3,1191.1 1071.8,1194.5 1072.8,1191.1 1074.3,1189.4 1075.3,1189.1 1075.8,1188.2 1076.3,1184.7 1076.8,1184.7 1078.8,1171.3 1081.3,1164.5 1082.3,1128.5 1084.3,1125.4 1085.8,1111.1 1088.8,1106.5 1091.3,1106.5 1091.8,1108.5 1092.3,1119.2 1092.8,1123.7 1094.8,1128.5 1095.8,1148.8 1097.8,1153.6 1098.8,1168.3 1099.3,1171.8 1100.3,1171.8 1101.3,1177.7 1101.8,1179.0 1104.3,1179.0 1104.8,1181.3 1105.3,1187.2 1106.3,1187.2 1108.3,1185.3 1109.8,1179.1 1110.8,1179.1 1111.8,1175.1 1113.3,1173.0 1114.3,1172.0 1116.3,1171.4 1117.8,1164.3 1118.3,1164.3 1118.8,1161.9 1119.3,1161.9 1121.8,1154.1 1124.3,1153.9 1124.8,1154.6 1127.3,1162.1 1128.3,1176.3 1128.8,1176.3 1129.3,1179.5 1132.3,1182.4 1133.3,1180.7 1134.3,1180.7 1135.3,1178.0 1138.8,1178.0 1140.3,1184.8 1142.3,1184.8 1143.3,1192.0 1144.3,1192.0 1144.8,1194.5 1145.3,1193.7 1146.8,1188.8 1147.3,1188.8 1148.3,1185.3 1148.8,1184.8 1151.3,1184.8 1151.8,1186.3 1152.8,1194.4 1153.8,1194.4 1154.3,1197.2 1155.8,1201.1 1159.8,1201.2 1160.3,1200.7 1160.8,1199.0 1161.8,1199.0 1163.8,1191.8 1164.8,1190.1 1165.8,1189.2 1166.3,1187.9 1166.8,1184.5 1167.3,1184.5 1168.8,1175.1 1172.3,1172.4 1175.3,1167.4 1178.3,1167.4 1178.8,1168.6 1180.3,1181.0 1182.3,1181.8 1183.3,1188.3 1185.8,1188.7 1186.3,1190.6 1186.8,1191.4 1188.8,1191.4 1189.3,1190.6 1192.3,1190.6 1195.8,1193.1 1196.8,1194.5 1197.3,1196.2 1199.3,1200.3 1200.3,1205.1 1205.3,1205.2 1212.8,1207.0 1214.8,1209.5 1215.3,1209.5 1216.3,1209.0 1219.8,1209.0 1220.3,1205.7 1221.3,1205.7 1221.8,1202.2 1234.8,1202.2 1236.3,1203.3 1236.8,1203.0 1237.8,1203.0 1242.8,1184.8 1246.3,1184.8 1246.8,1185.3 1247.8,1187.5 1249.8,1189.6 1250.8,1195.9 1251.8,1195.9 1252.3,1199.6 1252.8,1200.3 1256.8,1200.3 1257.3,1200.5 1259.8,1204.9 1260.3,1205.1 1262.3,1202.2 1267.3,1202.2 1267.8,1202.0 1269.8,1192.1 1270.3,1191.6 1272.8,1191.6 1273.3,1192.1 1273.8,1194.5 1275.8,1199.6 1276.3,1199.6 1276.8,1201.1 1277.3,1201.1 1279.3,1207.8 1279.8,1208.5 1281.8,1210.3 1282.8,1209.9 1287.8,1209.9 1288.8,1204.1 1291.8,1202.3 1294.8,1202.2 1295.3,1199.1 1296.3,1199.1 1296.8,1196.2 1299.8,1192.3 1300.8,1191.6 1305.3,1191.6 1307.8,1198.3 1310.3,1198.3 1311.3,1202.0 1312.3,1202.0 1313.8,1206.6 1314.3,1205.6 1314.8,1202.1 1315.8,1202.1 1317.3,1192.5 1320.8,1192.5 1323.8,1196.2 1325.3,1196.4 1326.8,1189.4 1328.3,1188.2 1331.3,1181.9 1335.3,1181.9 1336.3,1184.9 1336.8,1184.9 1338.3,1190.6 1338.8,1191.3 1339.8,1191.3 1340.3,1191.0 1340.8,1171.3 1343.3,1169.5 1344.3,1140.4 1346.8,1138.3 1347.3,1137.5 1350.3,1137.5 1351.3,1156.0 1353.3,1157.6 1353.8,1161.7 1354.3,1186.7 1356.3,1186.7 1357.8,1185.1 1360.8,1175.1 1363.8,1175.1 1367.3,1186.3 1368.8,1186.6 1370.3,1185.5 1370.8,1185.5 1371.3,1184.6 1371.8,1184.6 1372.3,1179.9 1372.8,1179.9 1373.8,1172.2 1377.3,1171.3 1380.3,1171.3 1380.8,1171.5 1382.3,1182.4 1384.8,1182.4 1385.3,1180.7 1386.3,1179.0 1389.8,1179.0 1390.8,1182.5 1391.3,1187.0 1391.8,1188.1 1393.3,1189.3 1393.8,1190.1 1394.3,1193.6 1394.8,1193.6 1395.3,1197.3 1395.8,1197.3 1396.3,1198.7 1398.3,1200.5 1398.8,1200.3 1402.8,1200.3 1404.3,1201.2 1404.8,1200.7 1406.8,1195.9 1407.3,1195.4 1411.8,1195.4 1412.3,1197.7 1412.8,1198.6 1413.8,1198.6 1414.8,1188.2 1417.3,1184.8 1418.3,1175.1 1426.8,1175.1 1427.3,1176.4 1428.3,1185.1 1428.8,1185.1 1429.3,1186.5 1430.8,1188.4 1431.8,1188.4 1433.8,1196.6 1434.3,1195.7 1436.3,1188.2 1437.3,1188.2 1438.3,1185.8 1441.3,1185.8 1441.8,1186.0 1442.8,1188.4 1443.3,1188.7 1446.3,1188.7 1446.8,1190.4 1447.8,1197.6 1448.3,1198.3 1452.8,1198.3 1454.3,1193.8 1454.8,1193.5 1458.8,1193.5 1459.3,1194.3 1461.3,1202.2 1466.8,1203.2 1470.3,1209.9 1471.8,1206.1 1476.3,1206.1 1476.8,1206.8 1477.8,1206.8 1478.8,1202.2 1482.3,1202.2 1484.3,1206.3 1484.8,1205.8 1485.8,1205.8 1486.3,1200.8 1486.8,1200.3 1490.8,1200.2 1493.3,1193.3 1493.8,1192.5 1494.3,1192.5 1495.3,1191.6 1498.8,1191.6 1499.3,1192.1 1501.3,1198.3 1504.8,1198.6 1505.8,1195.4 1507.8,1195.4 1507.8,1204.3 1506.8,1208.0 1505.8,1208.0 1504.8,1210.7 1501.8,1210.7 1501.3,1210.5 1499.3,1203.0 1497.3,1203.0 1496.8,1202.5 1496.3,1200.7 1495.3,1203.7 1494.8,1203.7 1494.3,1204.9 1490.3,1204.9 1489.8,1206.0 1489.3,1211.5 1488.3,1211.5 1487.8,1216.2 1487.3,1217.5 1484.3,1217.5 1481.3,1212.3 1480.3,1212.3 1479.3,1218.4 1475.8,1218.4 1474.3,1215.5 1473.8,1217.0 1473.3,1217.5 1469.3,1217.5 1468.8,1217.2 1464.8,1211.2 1462.3,1206.1 1461.8,1205.8 1456.8,1205.0 1456.3,1204.7 1453.8,1204.9 1453.3,1206.8 1452.3,1206.8 1450.8,1218.4 1448.3,1218.4 1447.8,1207.2 1447.3,1202.6 1445.3,1201.0 1444.3,1201.0 1442.8,1193.3 1440.8,1193.3 1440.3,1193.7 1439.3,1197.4 1438.3,1197.4 1437.8,1199.1 1436.3,1200.1 1433.8,1201.0 1430.3,1201.0 1429.3,1196.3 1428.8,1196.3 1428.3,1191.1 1425.8,1187.8 1425.3,1186.3 1424.3,1186.3 1423.3,1177.8 1422.3,1177.8 1421.8,1178.6 1420.8,1187.8 1419.8,1187.8 1417.8,1189.9 1416.3,1201.3 1413.8,1205.1 1413.3,1206.6 1412.8,1206.8 1409.3,1206.8 1408.3,1205.8 1407.8,1206.8 1403.3,1206.8 1402.3,1206.5 1401.3,1210.9 1400.8,1211.7 1396.8,1211.7 1396.3,1211.4 1395.8,1209.9 1394.3,1202.8 1392.3,1201.0 1391.3,1194.6 1390.8,1194.6 1390.3,1192.1 1387.8,1190.4 1387.3,1188.7 1386.8,1188.5 1386.3,1191.0 1385.8,1191.0 1385.3,1193.2 1384.8,1193.2 1383.8,1197.6 1383.3,1198.1 1381.3,1198.1 1380.8,1196.1 1379.3,1182.9 1378.3,1182.9 1377.3,1175.7 1376.8,1180.4 1375.8,1180.4 1374.8,1187.5 1372.8,1189.0 1371.8,1192.4 1371.3,1196.2 1370.8,1196.2 1370.3,1198.1 1367.3,1198.1 1363.8,1186.3 1362.8,1186.3 1361.3,1187.8 1360.8,1187.8 1359.8,1189.0 1358.3,1195.4 1357.8,1195.4 1356.8,1200.1 1356.3,1201.0 1354.3,1201.0 1353.8,1200.6 1351.8,1195.5 1350.8,1160.1 1348.8,1158.7 1346.8,1158.7 1345.8,1172.0 1343.8,1173.6 1343.3,1181.5 1342.8,1201.7 1342.3,1204.9 1340.3,1204.9 1339.8,1204.2 1339.3,1204.2 1338.8,1202.4 1338.3,1202.4 1336.3,1195.5 1333.8,1193.6 1332.8,1190.3 1332.3,1190.5 1330.3,1192.1 1329.3,1197.6 1328.3,1197.6 1326.8,1206.1 1326.3,1206.8 1323.3,1206.8 1322.8,1206.4 1320.3,1200.6 1319.8,1203.4 1318.8,1203.4 1317.8,1209.0 1315.3,1214.6 1312.3,1214.6 1311.8,1214.3 1310.8,1210.9 1309.8,1210.9 1308.3,1207.3 1307.3,1203.7 1306.8,1203.0 1303.8,1203.0 1301.8,1197.5 1301.3,1197.6 1300.8,1197.9 1299.8,1203.6 1298.8,1203.6 1297.8,1209.7 1297.3,1210.7 1294.3,1210.7 1293.8,1210.2 1292.8,1207.1 1292.3,1207.1 1291.3,1214.6 1290.3,1214.6 1289.3,1221.3 1285.8,1221.3 1283.3,1215.1 1282.8,1214.6 1278.8,1214.6 1277.3,1213.4 1275.3,1209.5 1273.8,1204.5 1273.3,1204.5 1272.8,1203.0 1270.8,1203.2 1268.8,1213.8 1268.3,1214.6 1265.3,1214.6 1264.8,1214.1 1263.3,1209.7 1259.3,1209.7 1255.3,1207.8 1254.3,1206.1 1253.8,1206.0 1252.8,1206.8 1249.3,1206.8 1247.8,1196.8 1246.8,1196.8 1246.3,1193.1 1245.8,1191.9 1245.3,1192.2 1244.3,1195.9 1243.3,1195.9 1240.8,1204.4 1239.3,1213.3 1238.8,1214.6 1235.8,1214.6 1235.3,1214.1 1234.3,1209.3 1233.8,1212.8 1232.8,1212.8 1231.8,1218.4 1229.3,1218.4 1228.3,1214.0 1227.3,1214.0 1225.3,1204.9 1224.8,1213.5 1223.8,1213.5 1223.3,1217.5 1219.8,1217.5 1217.8,1214.3 1212.3,1214.6 1208.3,1209.7 1205.3,1209.0 1204.8,1209.8 1203.3,1216.7 1202.3,1216.7 1201.8,1218.4 1199.3,1218.4 1197.3,1207.0 1196.8,1207.0 1196.3,1204.0 1195.8,1204.0 1195.3,1202.2 1192.8,1197.2 1191.8,1196.5 1190.3,1202.0 1189.3,1202.0 1188.8,1203.7 1186.3,1203.9 1185.3,1200.7 1184.3,1200.7 1183.8,1197.2 1181.3,1197.2 1179.8,1184.5 1177.8,1183.7 1177.3,1182.9 1176.8,1178.5 1175.8,1178.5 1175.3,1176.1 1172.8,1177.6 1172.3,1178.3 1171.3,1185.5 1170.3,1185.5 1169.3,1191.4 1167.3,1193.3 1164.8,1202.4 1164.3,1202.4 1161.8,1211.4 1161.3,1211.7 1158.3,1211.7 1157.8,1211.2 1156.3,1207.2 1155.8,1206.8 1153.3,1206.8 1149.8,1197.9 1148.3,1197.9 1145.3,1203.0 1141.8,1203.0 1140.8,1197.0 1140.3,1197.0 1139.3,1189.4 1134.8,1189.4 1133.8,1193.3 1130.8,1193.3 1130.3,1192.8 1128.3,1184.6 1125.8,1181.7 1124.3,1163.6 1123.3,1163.6 1122.8,1165.8 1121.8,1165.8 1120.3,1173.0 1119.8,1174.1 1118.3,1174.7 1115.3,1178.1 1114.3,1183.0 1113.8,1183.0 1113.3,1185.5 1112.8,1185.5 1112.3,1187.5 1110.8,1189.0 1109.8,1191.6 1106.8,1196.9 1106.3,1197.2 1103.3,1197.2 1102.8,1194.9 1102.3,1187.7 1101.3,1187.7 1100.8,1183.6 1098.3,1183.6 1097.8,1181.7 1096.3,1172.8 1095.3,1158.1 1094.8,1155.4 1093.3,1151.7 1092.8,1148.1 1092.3,1131.2 1089.8,1125.7 1087.8,1125.7 1084.8,1131.7 1084.3,1166.2 1081.8,1173.0 1078.8,1191.4 1076.8,1193.1 1076.3,1196.5 1074.8,1202.0 1070.8,1202.0 1068.8,1199.3 1067.8,1196.7 1065.3,1193.3 1064.3,1174.5 1062.8,1168.2 1062.3,1168.0 1060.8,1168.0 1060.3,1173.5 1059.8,1175.1 1057.8,1176.7 1056.8,1190.4 1054.3,1191.4 1051.3,1191.4 1050.8,1190.2 1048.8,1187.8 1048.3,1186.0 1046.8,1170.6 1044.8,1170.6 1044.3,1172.4 1043.8,1179.3 1041.3,1193.7 1040.8,1195.2 1038.8,1195.2 1038.3,1193.7 1037.3,1180.3 1035.3,1177.8 1034.3,1157.3 1033.8,1154.8 1032.8,1154.8 1032.3,1156.3 1031.3,1156.3 1030.3,1178.3 1029.8,1180.3 1027.8,1182.9 1027.3,1184.1 1024.8,1201.0 1022.3,1201.0 1021.8,1195.9 1020.8,1195.9 1020.3,1193.3 1017.8,1193.3 1016.8,1207.8 1013.8,1207.6 1009.8,1198.1 1007.8,1198.2 1006.8,1203.9 1004.3,1203.9 1001.3,1193.4 1000.3,1193.4 999.3,1189.9 998.3,1187.8 997.3,1193.6 996.8,1193.6 996.3,1194.3 995.8,1194.3 994.3,1196.7 993.8,1198.1 990.3,1198.1 987.8,1207.8 984.3,1207.8 982.3,1194.8 981.8,1194.8 981.3,1192.6 979.8,1191.4 979.3,1189.6 978.3,1189.6 977.8,1189.0 976.8,1190.2 975.3,1194.0 971.3,1197.2 966.8,1197.2 963.3,1196.3 961.3,1196.3 960.8,1197.3 960.3,1200.8 957.8,1201.0 956.8,1181.5 954.8,1180.0 953.8,1152.3 951.8,1150.8 951.3,1139.4 949.3,1139.4 948.8,1140.9 947.8,1149.8 946.3,1155.8 945.8,1156.7 944.3,1157.5 942.3,1166.2 941.3,1166.2 939.3,1174.6 937.3,1181.0 934.8,1185.2 931.8,1192.6 931.3,1192.6 930.3,1194.6 927.3,1194.6 924.8,1187.8 923.8,1182.7 923.3,1182.7 922.8,1183.2 921.8,1183.2 920.3,1190.7 917.8,1190.7 916.8,1178.0 916.3,1175.2 914.3,1169.7 912.3,1169.7 910.8,1171.1 909.8,1185.3 909.3,1187.8 906.8,1194.6 904.3,1194.6 901.3,1186.8 900.3,1144.4 899.8,1140.4 898.3,1133.7 896.3,1133.7 893.8,1141.9 892.8,1171.4 891.3,1174.5 890.8,1176.7 889.3,1190.7 881.3,1190.7 880.8,1190.0 879.8,1185.3 878.8,1185.3 877.8,1180.6 877.3,1181.0 873.8,1181.0 872.8,1176.6 871.8,1176.6 871.3,1173.7 870.8,1172.7 869.8,1172.7 869.3,1178.6 868.8,1181.0 866.3,1180.8 864.3,1177.7 863.8,1171.0 863.3,1143.4 862.8,1131.9 861.8,1124.5 859.8,1124.5 858.8,1142.4 856.8,1145.8 855.3,1173.5 853.3,1175.1 852.8,1177.0 852.3,1182.7 851.8,1183.0 848.3,1183.0 847.3,1181.5 845.8,1183.9 841.3,1183.9 839.8,1180.7 839.3,1180.2 837.3,1183.9 833.8,1183.9 832.3,1169.2 830.8,1158.6 829.8,1128.5 829.3,1122.0 827.8,1111.7 826.8,1080.5 824.8,1078.8 824.3,1074.3 822.3,1074.3 820.8,1093.8 819.8,1128.8 816.8,1130.8 813.8,1130.8 812.8,1085.3 811.3,1070.5 810.8,1058.3 810.3,1028.6 808.3,1028.6 807.8,1030.4 805.8,1031.9 805.3,1035.7 804.3,1073.3 802.3,1090.2 799.8,1090.2 797.8,1070.7 797.3,1062.0 796.8,1060.0 794.8,1060.0 792.8,1064.8 791.8,1116.3 789.3,1118.9 788.3,1132.7 786.3,1134.3 784.8,1144.8 782.3,1150.6 781.8,1151.1 779.8,1151.1 778.8,1150.4 776.8,1150.4 775.8,1151.1 774.8,1152.0 774.3,1153.5 772.8,1155.4 771.8,1159.9 770.8,1159.9 769.3,1166.6 767.3,1167.5 763.8,1167.5 763.3,1167.3 761.8,1165.1 760.3,1163.6 759.3,1139.1 758.8,1133.2 757.3,1127.2 755.8,1118.5 753.8,1118.3 752.3,1127.9 751.3,1138.5 750.8,1139.7 749.3,1141.2 748.3,1143.1 747.3,1154.0 744.8,1164.6 742.3,1164.6 739.8,1159.5 739.3,1149.3 738.8,1115.1 737.3,1107.4 736.3,1092.4 734.3,1092.4 732.8,1094.3 731.8,1103.7 729.3,1105.3 727.8,1133.0 725.3,1137.5 722.8,1137.3 721.8,1114.3 719.8,1106.6 718.8,968.4 716.8,928.0 716.3,906.5 715.8,899.8 711.8,899.8 711.3,898.8 710.8,880.8 710.3,878.6 708.3,878.6 707.8,932.6 707.3,948.3 705.8,973.3 705.3,998.5 704.8,1088.3 703.3,1089.7 702.8,1091.7 701.3,1117.3 699.3,1117.3 698.8,1115.3 698.3,1088.6 697.8,1084.1 695.8,1084.1 695.3,1085.6 694.3,1132.9 692.3,1134.3 691.8,1136.1 690.8,1148.9 690.3,1150.2 687.8,1151.6 683.8,1157.6 683.3,1157.8 679.8,1157.8 679.3,1157.6 678.8,1155.9 676.3,1151.3 675.3,1139.4 674.3,1139.4 673.8,1138.6 673.3,1138.6 671.8,1155.9 668.3,1157.7 664.8,1157.8 664.3,1155.8 662.8,1133.4 662.3,1132.7 658.3,1132.7 655.8,1128.4 654.8,1033.0 652.8,991.6 652.3,950.9 651.8,788.1 649.8,788.1 647.8,852.8 646.8,946.1 644.8,976.8 644.3,1050.6 643.8,1073.8 642.3,1085.0 641.8,1095.5 641.3,1132.7 638.3,1133.6 637.8,1139.8 637.3,1139.8 636.3,1146.7 634.3,1152.5 633.8,1153.0 631.3,1153.0 630.8,1152.5 630.3,1150.0 627.8,1143.6 626.8,1143.6 626.3,1139.4 625.3,1134.6 621.8,1134.6 621.3,1138.1 620.8,1148.4 618.3,1151.8 617.3,1169.8 616.8,1173.3 609.8,1173.3 608.8,1172.3 608.3,1173.3 604.3,1173.3 601.3,1170.2 599.3,1154.3 597.8,1103.9 596.3,1094.0 595.8,1094.0 594.8,1087.8 592.3,1086.3 591.3,1069.7 590.8,1067.6 588.8,1066.2 588.3,1064.5 587.3,1041.4 585.3,1041.4 584.3,1045.5 583.8,1113.6 581.8,1119.6 581.3,1124.6 580.3,1159.8 578.3,1161.5 576.3,1175.7 574.3,1181.1 571.8,1190.5 569.3,1190.7 568.8,1189.5 566.3,1177.4 565.3,1177.4 564.8,1176.2 562.8,1176.2 562.3,1177.9 561.3,1177.9 560.3,1185.3 559.8,1186.8 557.8,1186.8 557.3,1185.9 554.8,1169.1 553.8,1169.1 553.3,1169.9 551.3,1176.4 549.3,1178.9 548.8,1178.9 547.3,1181.8 544.8,1188.5 539.8,1192.9 537.8,1200.4 533.3,1200.4 532.8,1201.4 531.8,1207.1 527.8,1207.2 526.8,1213.2 526.3,1213.9 523.8,1213.9 523.3,1213.4 520.8,1207.1 519.8,1203.7 518.8,1203.7 517.3,1197.5 516.8,1197.0 514.8,1203.2 513.8,1203.2 512.3,1207.9 510.8,1210.3 510.3,1211.0 507.3,1211.0 505.8,1206.6 504.8,1206.6 502.8,1198.1 500.8,1196.7 500.3,1194.8 499.8,1186.8 497.8,1186.8 497.3,1192.6 494.3,1193.6 490.8,1193.6 489.3,1178.1 486.8,1178.1 484.3,1177.3 483.8,1171.2 482.8,1141.6 480.8,1116.6 480.3,1114.4 478.3,1114.4 476.3,1123.8 474.8,1163.6 471.3,1163.6 469.3,1162.5 467.3,1160.7 466.8,1118.1 466.3,1101.5 464.3,1101.5 463.3,1103.0 462.8,1114.2 462.3,1144.6 459.8,1147.9 458.8,1177.4 456.8,1179.8 454.8,1192.4 452.8,1217.8 450.3,1217.8 448.3,1201.1 447.8,1199.4 444.8,1199.4 444.3,1198.7 443.3,1188.6 441.3,1187.0 440.3,1181.3 438.3,1181.3 437.3,1182.5 436.3,1199.4 432.8,1199.4 429.8,1199.0 429.3,1199.7 426.8,1207.1 423.3,1207.1 420.3,1204.2 419.3,1192.4 418.3,1192.4 417.8,1189.7 417.3,1190.2 416.3,1194.2 415.3,1194.2 413.3,1201.8 412.8,1202.3 410.8,1202.3 410.3,1205.8 409.3,1205.8 408.8,1210.5 408.3,1211.0 405.3,1211.0 401.8,1205.2 396.8,1204.3 396.3,1203.5 395.8,1199.2 393.3,1197.5 392.3,1166.5 390.8,1162.2 388.8,1162.2 388.3,1164.1 386.3,1167.3 385.3,1181.9 384.8,1184.1 382.3,1185.6 381.3,1185.9 380.8,1186.4 379.8,1188.8 379.3,1191.5 378.3,1191.5 376.8,1199.5 376.3,1199.7 368.3,1199.7 364.3,1197.0 363.8,1197.7 362.8,1197.7 362.3,1199.5 361.8,1199.7 358.8,1199.7 358.3,1199.5 356.3,1204.5 353.3,1204.5 352.8,1204.3 351.8,1200.8 350.8,1200.8 348.8,1193.7 347.8,1194.9 342.3,1195.8 341.8,1196.3 340.3,1200.2 339.8,1200.7 336.8,1200.7 336.3,1200.4 334.3,1195.2 333.8,1195.2 333.3,1193.7 332.8,1193.7 331.3,1186.0 327.8,1184.2 327.3,1183.3 326.8,1186.8 325.8,1186.8 325.3,1190.0 324.8,1191.0 322.3,1191.0 321.8,1190.5 321.3,1188.8 320.8,1188.8 318.8,1182.1 315.8,1179.3 314.8,1180.1 309.8,1186.4 308.8,1187.1 304.8,1187.1 304.3,1186.9 303.3,1185.7 302.3,1183.0 299.3,1180.4 298.8,1164.5 298.3,1159.8 296.3,1153.6 295.3,1113.5 293.3,1111.9 292.8,890.1 292.3,822.2 290.8,810.8 288.8,810.8 288.3,923.3 286.3,954.3 285.8,969.5 284.8,1034.0 283.3,1039.9 281.3,1073.6 278.8,1095.1 278.3,1119.8 277.8,1125.4 275.8,1126.7 275.3,1128.0 274.3,1143.6 271.3,1147.5 268.8,1147.5 265.3,1143.6 264.3,1090.3 263.3,1062.7 261.3,1062.7 260.3,1063.4 258.3,1063.4 255.8,1039.3 255.3,860.8 254.8,840.6 252.3,823.7 251.8,688.4 250.8,686.7 248.8,686.7 248.3,687.2 247.8,834.1 245.8,857.1 245.3,866.1 244.3,975.7 242.3,987.5 241.3,1034.2 239.3,1043.3 238.8,1051.1 238.3,1070.3 237.8,1075.2 235.3,1077.7 234.3,1107.0 232.8,1114.4 231.3,1125.5 228.8,1134.5 226.8,1144.9 224.8,1149.6 223.8,1150.9 222.8,1151.2 222.3,1157.4 221.8,1157.4 221.3,1164.6 220.8,1166.8 218.8,1166.8 218.3,1170.2 217.8,1170.7 214.3,1170.7 213.8,1170.2 212.8,1167.3 212.3,1167.4 210.3,1168.8 206.8,1168.8 205.8,1172.4 202.3,1174.6 197.8,1174.6 196.3,1165.7 195.8,1164.9 192.3,1164.9 191.3,1170.0 190.8,1170.7 188.8,1170.7 187.8,1166.3 186.8,1166.3 186.3,1163.9 182.8,1163.9 181.8,1153.6 181.3,1152.0 179.3,1150.6 178.8,1149.7 178.3,1145.6 175.8,1145.6 175.3,1145.8 173.8,1149.7 172.8,1154.1 171.8,1154.1 170.3,1161.0 167.8,1161.0 167.3,1159.5 166.8,1159.5 165.8,1156.3 165.3,1156.3 164.8,1154.8 163.8,1156.2 159.8,1156.2 154.8,1153.3 151.3,1146.9 150.3,1150.8 149.3,1150.8 148.8,1152.8 148.3,1153.3 146.3,1153.3 145.3,1148.9 143.3,1149.2 142.8,1150.4 140.3,1150.4 139.3,1146.7 136.8,1147.2 135.8,1150.4 133.3,1150.4 132.3,1147.0 131.3,1147.0 130.3,1140.7 126.8,1140.7 125.8,1133.0 122.3,1133.0 120.8,1126.7 118.8,1126.0 117.8,1124.8 117.3,1123.2 113.8,1123.3"/>
</g>
<g filter="url(#msoft)">
<g id="markers" fill="#000">
<polygon points="189.9,1093.5 170.6,1131.8 209.8,1131.8"/>
<polygon points="327.8,1124.0 308.8,1161.0 347.6,1161.0"/>
<circle cx="416.6" cy="1164.4" r="13.2"/>
<circle cx="500.8" cy="1152.6" r="13.1"/>
<circle cx="559.4" cy="1135.2" r="11.6"/>
<circle cx="680.1" cy="1114.4" r="12.1"/>
<circle cx="737.5" cy="1058.4" r="14.4"/>
<circle cx="979.0" cy="1161.0" r="12.4"/>
<circle cx="1002.8" cy="1168.4" r="11.0"/>
<circle cx="1129.0" cy="1135.3" r="14.0"/>
<circle cx="1202.9" cy="1172.6" r="13.1"/>
<circle cx="1243.2" cy="1157.2" r="13.2"/>
<circle cx="1438.1" cy="1165.9" r="12.5"/>
<circle cx="1463.2" cy="1179.4" r="11.5"/>
</g>
</g>
<g filter="url(#soft)">
<g id="stars" fill="#4d4d4d" font-weight="bold" text-anchor="middle">
<text x="439.7" y="1149.1" font-size="57">*</text>
<text x="757.3" y="1118.0" font-size="54">*</text>
<text x="1072.2" y="1149.9" font-size="49">*</text>
</g>
<text x="968.9 1020.3 1038.6 1098.3 1125.0 1144.6 1197.4 1212.9 1242.3 1290.2 1337.1 1408.2 1437.9 1477.7" y="65.7" font-size="76.5" font-weight="bold" fill="#ff0000">TiO<tspan font-size="48.5" dy="15.5">2</tspan><tspan dy="-15.5">/Al</tspan><tspan textLength="32.9" lengthAdjust="spacingAndGlyphs" font-size="47" font-weight="normal" dy="-4">-</tspan><tspan dy="4">ZSM</tspan><tspan textLength="32.9" lengthAdjust="spacingAndGlyphs" font-size="47" font-weight="normal" dy="-4">-</tspan><tspan dy="4">12</tspan></text>
<text x="970.1 1022.4 1037.5 1066.2 1114.5 1162.3 1233.1 1263.4 1303.8" y="196.2" font-size="76.5" font-weight="bold" fill="#002060">Al<tspan textLength="32.9" lengthAdjust="spacingAndGlyphs" font-size="47" font-weight="normal" dy="-4">-</tspan><tspan dy="4">ZSM</tspan><tspan textLength="32.9" lengthAdjust="spacingAndGlyphs" font-size="47" font-weight="normal" dy="-4">-</tspan><tspan dy="4">12</tspan></text>
<g id="legend">
<circle cx="1028.4" cy="777.6" r="17.2" fill="#000"/>
<text x="1067.9 1122.8 1141.9 1167.4 1220.9 1244.0 1266.8 1313.3 1335.4 1390.5" y="801" font-size="75" fill="#000">Al<tspan font-size="49" dy="16.3">2</tspan><tspan dy="-16.3">O</tspan><tspan font-size="49" dy="16.3">3</tspan><tspan dy="-16.3">·TiO</tspan><tspan font-size="49" dy="16.3">2</tspan></text>
<text x="1011.6 1031.6 1066.8 1121.9 1155.2 1181.1 1233.7 1257.0 1303.4 1325.1 1380.6" y="898.2" font-size="75" fill="#000"><tspan fill="#3c3c3c">*</tspan> Na<tspan font-size="49" dy="16.3">2</tspan><tspan dy="-16.3">O·TiO</tspan><tspan font-size="49" dy="16.3">2</tspan></text>
<polygon points="1037.5,947 1010.5,999.3 1064.8,999.3" fill="#000"/>
<text x="1092.4 1134.8 1154.1 1175.5 1196.5 1230.1 1263.9 1289.6" y="999.1" font-size="75" fill="#000">Silica-X</text>
</g>
</g>
</svg>
</body>
</html>
